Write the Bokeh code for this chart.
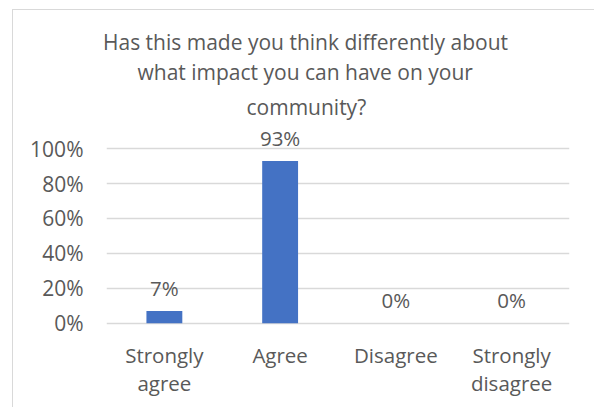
from bokeh.plotting import figure
from bokeh.models import ColumnDataSource, LabelSet, NumeralTickFormatter, FixedTicker, Range1d, Title
from bokeh.core.properties import value
from bokeh.embed import file_html
from bokeh.resources import INLINE

categories = ["Strongly agree", "Agree", "Disagree", "Strongly disagree"]
cat_line1 = ["Strongly", "Agree", "Disagree", "Strongly"]
cat_line2 = ["agree", "", "", "disagree"]
values = [0.07, 0.93, 0.0, 0.0]
value_labels = ["7%", "93%", "0%", "0%"]
y_ticks = [0, 0.2, 0.4, 0.6, 0.8, 1.0]
title_lines = ["Has this made you think differently about",
               "what impact you can have on your",
               "community?"]
title_offsets = [-3.5, 31, 140]    # left edge of each title line relative to the plot area
title_standoffs = [0, 0, 10]

FONT = "Open Sans"
FS_TITLE = "21px"
FS_TICK = "21px"
FS_LAB = "20.5px"
GREY = "#595959"

src = ColumnDataSource(dict(cat=categories, val=values, lab=value_labels,
                            l1=cat_line1, l2=cat_line2, zero=[0] * len(categories)))

p = figure(x_range=categories, y_range=Range1d(-0.483, 1.1327), width=582, height=398,
           output_backend="svg", toolbar_location=None,
           min_border_left=93, min_border_right=26, min_border_top=115, min_border_bottom=1,
           styles={"border-left": "1px solid #d9d9d9", "border-top": "1px solid #d9d9d9",
                   "box-sizing": "border-box",
                   "margin-left": "12px", "margin-top": "9px"})
p.title = None
p.xaxis.visible = False

for line, off, so in reversed(list(zip(title_lines, title_offsets, title_standoffs))):
    p.add_layout(Title(text=line, align="left", offset=off, standoff=so,
                       text_font=FONT, text_font_size=FS_TITLE, text_color=GREY,
                       text_font_style="normal"), "above")

p.vbar(x="cat", top="val", width=0.31, source=src, color="#4472C4", line_color=None)

p.add_layout(LabelSet(x="cat", y="val", text="lab", source=src, y_offset=23,
                      text_align="center", text_baseline="middle",
                      text_font=value(FONT), text_font_size=value(FS_LAB), text_color=GREY))

p.add_layout(LabelSet(x="cat", y="zero", text="l1", source=src, y_offset=-32,
                      text_align="center", text_baseline="middle",
                      text_font=value(FONT), text_font_size=value(FS_LAB), text_color=GREY))
p.add_layout(LabelSet(x="cat", y="zero", text="l2", source=src, y_offset=-60,
                      text_align="center", text_baseline="middle",
                      text_font=value(FONT), text_font_size=value(FS_LAB), text_color=GREY))

p.outline_line_color = None
p.xgrid.grid_line_color = None
p.ygrid.grid_line_color = "#d9d9d9"
p.ygrid.grid_line_width = 1.3
p.yaxis.ticker = FixedTicker(ticks=y_ticks)
p.yaxis.formatter = NumeralTickFormatter(format="0%")
p.yaxis.axis_line_color = None
p.yaxis.major_tick_line_color = None
p.yaxis.minor_tick_line_color = None
p.yaxis.major_tick_out = 0
p.yaxis.major_tick_in = 0
p.yaxis.major_label_text_font = FONT
p.yaxis.major_label_text_font_size = FS_TICK
p.yaxis.major_label_text_color = GREY
p.yaxis.major_label_standoff = 23

open("out.html", "w").write(file_html(p, INLINE))
